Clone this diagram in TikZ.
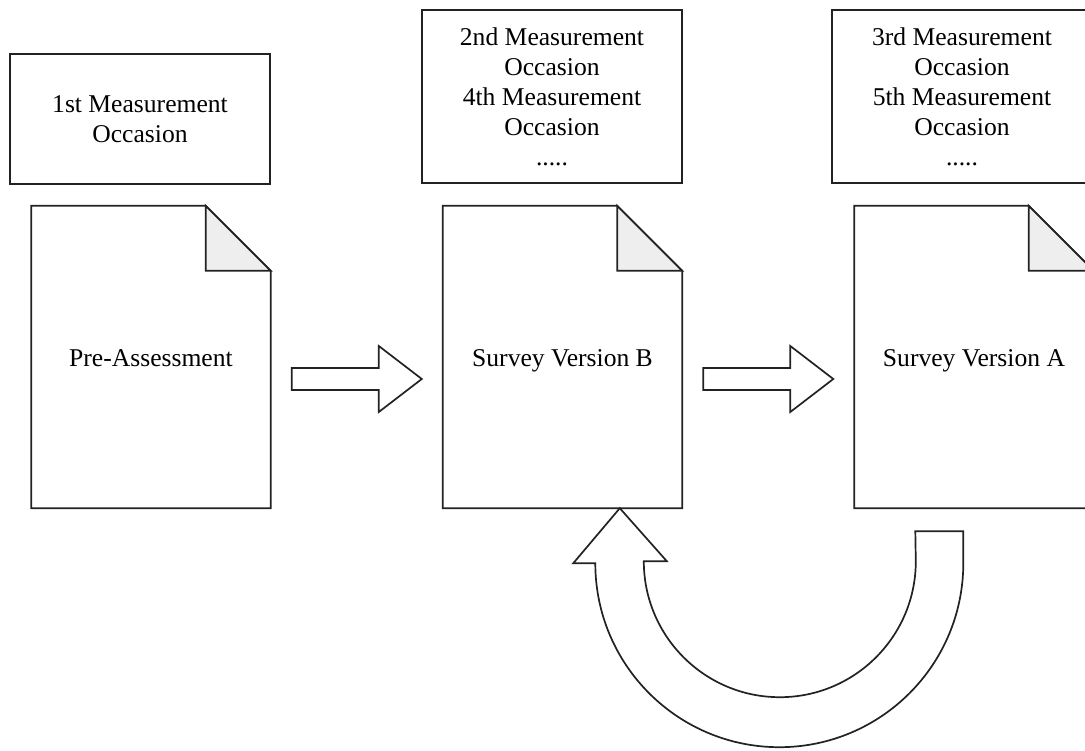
\documentclass[tikz,border=0pt]{standalone}
\usepackage{fontspec}
\setmainfont{Liberation Serif}
\usetikzlibrary{calc}
\definecolor{foldgray}{HTML}{EEEEEE}
\definecolor{linegray}{HTML}{222222}
\tikzset{
	occbox/.style={draw=linegray, line width=1.7pt, minimum width=260pt, align=center, inner sep=0pt, font=\fontsize{25.6}{30}\selectfont},
	docnode/.style={minimum width=239pt, minimum height=302pt, inner sep=0pt, text height=25pt, text depth=6pt, font=\fontsize{25.6}{30}\selectfont},
	docline/.style={draw=linegray, line width=1.7pt, line join=miter},
	foldcorner/.style={draw=linegray, line width=1.7pt, fill=foldgray},
	blockarr/.style={draw=linegray, line width=1.7pt, fill=white, line join=miter}
}
\begin{document}
\begin{tikzpicture}[x=1pt,y=-1pt]
				\useasboundingbox (0,0) rectangle (1085,751);
				\node[occbox, minimum height=130pt] (occ1) at (140,119) {1st Measurement\\Occasion};
				\node[occbox, minimum height=173pt] (occ2) at (552,96.5) {2nd Measurement\\Occasion\\4th Measurement\\Occasion\\.....};
				\node[occbox, minimum height=173pt] (occ3) at (962,96.5) {3rd Measurement\\Occasion\\5th Measurement\\Occasion\\.....};
				\node[docnode] (doc1) at (151,357) {Pre-Assessment};
				\node[docnode] (doc2) at (562.5,357) {Survey Version B};
				\node[docnode] (doc3) at (974,357) {Survey Version A};
				\foreach \d in {doc1,doc2,doc3} {
					\draw[docline] (\d.north west) -- ($(\d.north east)+(-65,0)$) -- ($(\d.north east)+(0,65)$) -- (\d.south east) -- (\d.south west) -- cycle;
					\draw[foldcorner] ($(\d.north east)+(-65,0)$) -- ($(\d.north east)+(-65,65)$) -- ($(\d.north east)+(0,65)$) -- cycle;
				}
				\foreach \a/\b in {doc1/doc2,doc2/doc3} {
					\coordinate (\a-out) at ($(\a.east)+(21,22)$);
					\coordinate (\b-in) at ($(\b.west)+(-21,22)$);
					\draw[blockarr] ($(\a-out)+(0,-11)$) -- ($(\b-in)+(-43,-11)$) -- ($(\b-in)+(-43,-33)$) -- (\b-in) -- ($(\b-in)+(-43,33)$) -- ($(\b-in)+(-43,11)$) -- ($(\a-out)+(0,11)$) -- cycle;
				}
				% loop back from version A to version B
				\coordinate (tail) at ($(doc3.south west)+(85,23)$);
				\coordinate (tip) at ($(doc2.south west)+(177,0)$);
				\draw[blockarr] ($(tail)+(-24,0)$) -- ($(tail)+(24,0)$) -- ($(tail)+(24,32)$) arc[start angle=0, end angle=180, radius=184] -- ++(-22,0) -- (tip) -- ($(tip)+(47,53)$) -- ++(-23,0) arc[start angle=180, end angle=0, radius=136] -- cycle;
\end{tikzpicture}
\end{document}
